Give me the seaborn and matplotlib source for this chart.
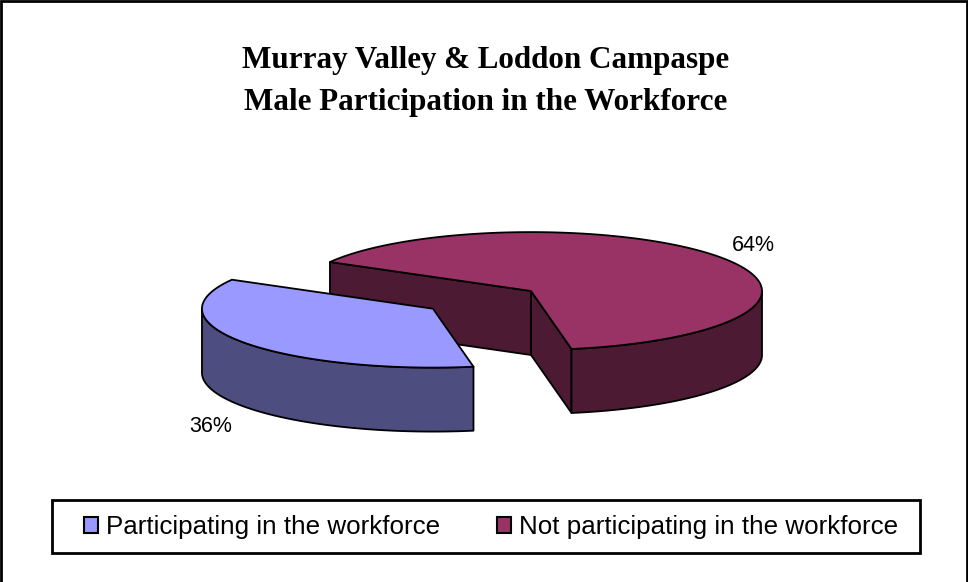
import numpy as np
import matplotlib.pyplot as plt
import seaborn as sns
from matplotlib.patches import Polygon, Rectangle, Patch

# Data
labels = ['Participating in the workforce', 'Not participating in the workforce']
shares = [36, 64]
top_colors = ['#9999FF', '#993366']
side_colors = ['#4D4D80', '#4D1A33']
explode = [0.52, 0.0]

sns.set_theme(style='white')
plt.rcParams['font.family'] = ['Liberation Sans', 'DejaVu Sans']
plt.rcParams['text.color'] = 'black'

W, H = 968, 582
fig = plt.figure(figsize=(W / 100, H / 100), dpi=100)
ax = fig.add_axes([0, 0, 1, 1])
ax.set_axis_off()

# pie geometry (unit radius, flattened view)
R_PX = 231.0
CX_PX, CY_PX = 531.0, 291.0
ry = 0.255
depth = 0.277
start = 150.5
ax.set_xlim(-CX_PX / R_PX, (W - CX_PX) / R_PX)
ax.set_ylim(-(H - CY_PX) / R_PX, CY_PX / R_PX)

total = float(sum(shares))
sweeps = [360.0 * s / total for s in shares]
theta1 = start + np.concatenate([[0], np.cumsum(sweeps)[:-1]])
theta2 = theta1 + np.array(sweeps)
mids = (theta1 + theta2) / 2


def arc(cx, cy, a, b, n=120):
    t = np.radians(np.linspace(a, b, n))
    return np.column_stack([cx + np.cos(t), cy + ry * np.sin(t)])


ekw = dict(edgecolor='black', linewidth=1.3, joinstyle='round')

# back slices first
order = sorted(range(len(shares)), key=lambda i: -np.sin(np.radians(mids[i])))
for i in order:
    m = np.radians(mids[i])
    cx = explode[i] * np.cos(m)
    cy = explode[i] * ry * np.sin(m)
    a, b = theta1[i], theta2[i]

    # radial side faces
    for ang, normal in [(a, a - 90), (b, b + 90)]:
        if np.sin(np.radians(normal)) < 0:
            e = arc(cx, cy, ang, ang, 1)[0]
            quad = [(cx, cy), tuple(e), (e[0], e[1] - depth), (cx, cy - depth)]
            ax.add_patch(Polygon(quad, closed=True, facecolor=side_colors[i], **ekw))

    # outer curved wall, front half only
    for k in range(-1, 3):
        lo, hi = max(a, 180 + 360 * k), min(b, 360 + 360 * k)
        if hi > lo:
            top = arc(cx, cy, lo, hi)
            bot = top.copy()
            bot[:, 1] -= depth
            ax.add_patch(Polygon(np.vstack([top, bot[::-1]]), closed=True,
                                 facecolor=side_colors[i], **ekw))

    # top face
    pts = np.vstack([[cx, cy], arc(cx, cy, a, b)])
    ax.add_patch(Polygon(pts, closed=True, facecolor=top_colors[i], **ekw))

    # percentage label
    lx = cx + 1.18 * np.cos(m)
    ly = cy + 1.45 * ry * np.sin(m) - (depth if np.sin(m) < 0 else 0) - 0.018
    ax.text(lx, ly, f'{shares[i] / total * 100:.0f}%', ha='center', va='center',
            fontsize=15.5, color='black')

# title
fig.text(486 / W, 1 - 68 / H, 'Murray Valley & Loddon Campaspe', ha='center',
         va='baseline', fontsize=22.4, fontweight='bold', family='Liberation Serif')
fig.text(486 / W, 1 - 110 / H, 'Male Participation in the Workforce', ha='center',
         va='baseline', fontsize=22.4, fontweight='bold', family='Liberation Serif')

# legend
handles = [Patch(facecolor=c, edgecolor='black', linewidth=1.5) for c in top_colors]
fig.legend(handles, labels, loc='center', bbox_to_anchor=(491 / W, 1 - 527 / H),
           ncol=2, frameon=False, fontsize=18.7, handlelength=0.55, handleheight=0.55,
           handletextpad=0.3, columnspacing=2.2, labelcolor='black')
fig.patches.append(Rectangle((52 / W, 1 - 553 / H), 868 / W, 53 / H, transform=fig.transFigure,
                             fill=False, edgecolor='black', linewidth=2))

# outer chart border
fig.patches.append(Rectangle((1 / W, -0.01), 966 / W, 1 - 1 / H + 0.01, transform=fig.transFigure,
                             fill=False, edgecolor='black', linewidth=2))

fig.savefig('out.png', dpi=100, facecolor='white')
